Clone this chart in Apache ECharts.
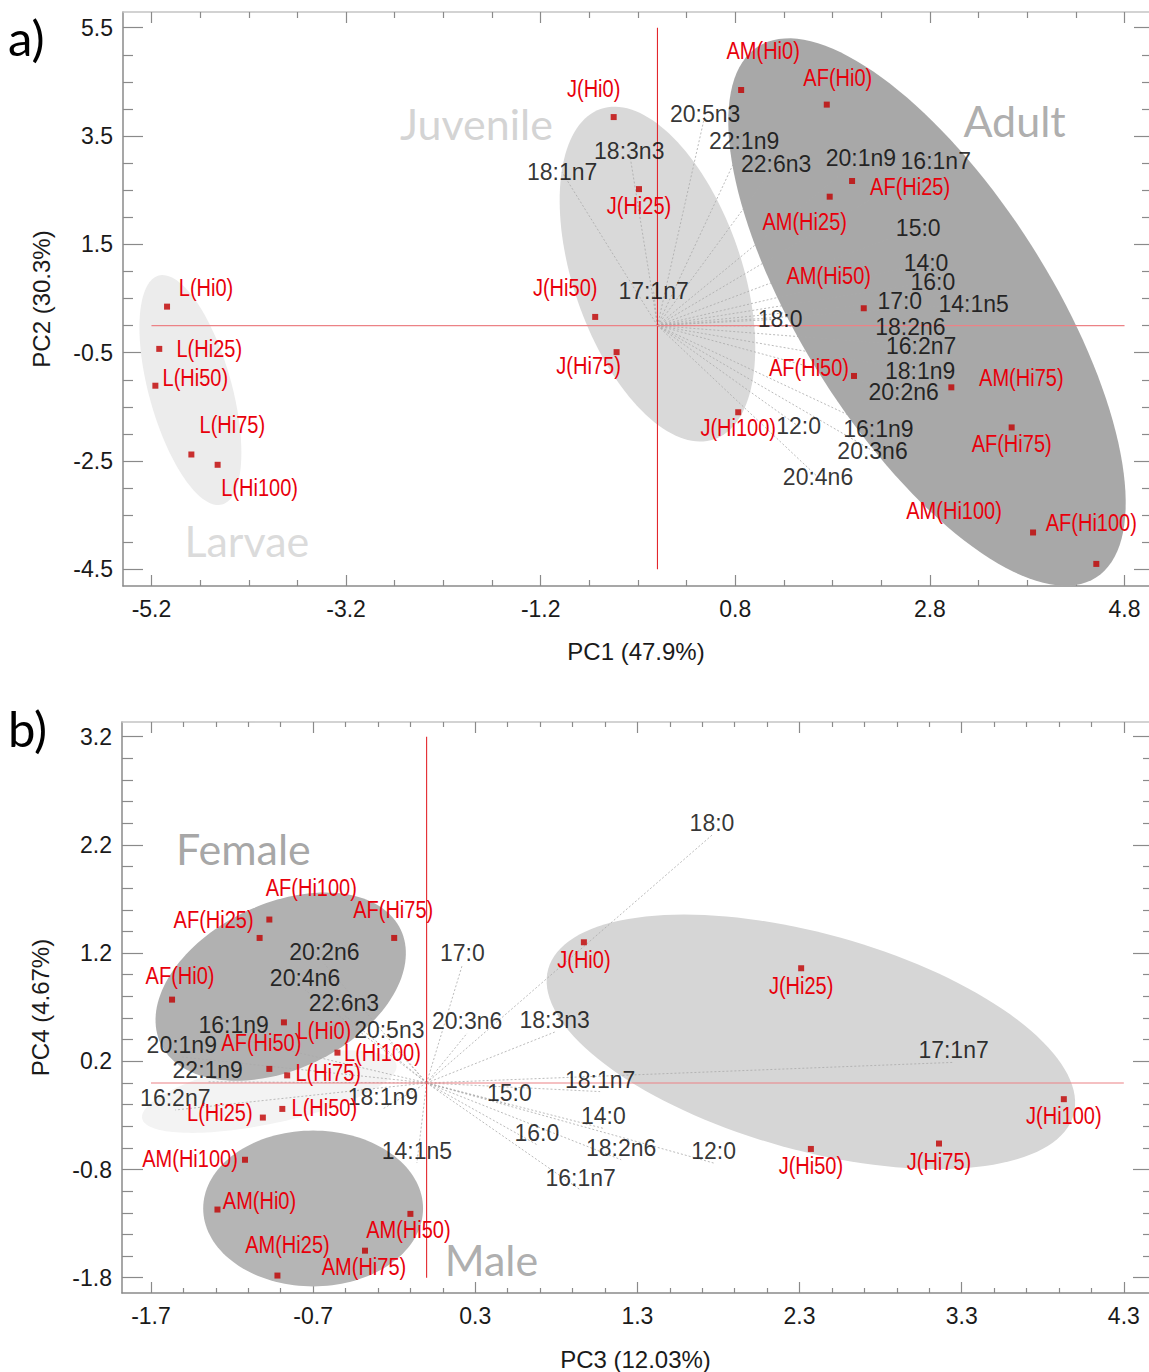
<!DOCTYPE html>
<html><head><meta charset="utf-8">
<script src="https://cdn.jsdelivr.net/npm/echarts@6/dist/echarts.min.js"></script>
<style>html,body{margin:0;padding:0;background:#fff}#c{width:1149px;height:1372px}</style>
</head><body><div id="c"></div>
<script>
// ---------------- Panel a (PC1 vs PC2) ----------------
const sampleNamesA = ['L(Hi0)','L(Hi25)','L(Hi50)','L(Hi75)','L(Hi100)','J(Hi0)','J(Hi25)','J(Hi50)','J(Hi75)','J(Hi100)','AM(Hi0)','AF(Hi0)','AF(Hi25)','AM(Hi25)','AM(Hi50)','AF(Hi50)','AM(Hi75)','AF(Hi75)','AM(Hi100)','AF(Hi100)'];
const samplePC1 = [-5.04,-5.12,-5.16,-4.79,-4.52,-0.45,-0.19,-0.64,-0.42,0.83,0.86,1.74,2.00,1.77,2.12,2.02,3.02,3.64,3.86,4.51];
const samplePC2 = [0.35,-0.43,-1.11,-2.38,-2.57,3.85,2.52,0.16,-0.49,-1.60,4.35,4.08,2.67,2.38,0.32,-0.93,-1.14,-1.88,-3.82,-4.40];

const varNamesA = ['20:5n3','22:1n9','22:6n3','20:1n9','16:1n7','18:3n3','18:1n7','15:0','14:0','16:0','17:0','14:1n5','17:1n7','18:0','18:2n6','16:2n7','18:1n9','20:2n6','12:0','16:1n9','20:3n6','20:4n6'];
const varPC1 = [0.49,0.89,1.22,2.09,2.86,-0.29,-0.98,2.68,2.76,2.83,2.49,3.25,-0.04,1.26,2.60,2.71,2.70,2.53,1.45,2.27,2.21,1.65];
const varPC2 = [3.90,3.41,2.98,3.10,3.04,3.22,2.83,1.81,1.16,0.81,0.45,0.40,0.64,0.12,-0.02,-0.38,-0.84,-1.23,-1.86,-1.91,-2.31,-2.80];

// ellipses: centre (x,y), semi-axis vector U, semi-axis vector V (data units)
const ellipseNamesA = ['Larvae','Juvenile','Adult'];
const ellipsesA = [
  [-4.80,-1.19, 0.326,-2.113, -0.410,-0.204],
  [0.00,0.95, 0.584,-3.050, -0.818,-0.506],
  [2.77,0.25, 1.737,-4.902, -1.074,-1.229]
];
const groupNamesA = ['Larvae','Juvenile','Adult'];
const groupXA = [-4.22,-1.86,3.67];
const groupYA = [-3.97,3.74,3.79];

const xTicksA = [-5.2,-3.2,-1.2,0.8,2.8,4.8];
const yTicksA = [-4.5,-2.5,-0.5,1.5,3.5,5.5];
const refLineA_V = [[0,-4.5],[0,5.5]];
const refLineA_H = [[-5.2,0],[4.8,0]];

// ---------------- Panel b (PC3 vs PC4) ----------------
const sampleNamesB = ['AF(Hi0)','AF(Hi25)','AF(Hi100)','AF(Hi75)','AF(Hi50)','L(Hi0)','L(Hi100)','L(Hi75)','L(Hi50)','L(Hi25)','AM(Hi100)','AM(Hi0)','AM(Hi25)','AM(Hi75)','AM(Hi50)','J(Hi0)','J(Hi25)','J(Hi50)','J(Hi75)','J(Hi100)'];
const samplePC3 = [-1.57,-1.03,-0.97,-0.20,-0.97,-0.88,-0.55,-0.86,-0.89,-1.01,-1.12,-1.29,-0.92,-0.38,-0.10,0.97,2.31,2.37,3.16,3.93];
const samplePC4 = [0.77,1.34,1.51,1.34,0.13,0.56,0.28,0.07,-0.24,-0.32,-0.71,-1.17,-1.78,-1.55,-1.21,1.30,1.06,-0.61,-0.56,-0.15];

const varNamesB = ['18:0','17:0','20:2n6','20:4n6','22:6n3','16:1n9','20:5n3','20:3n6','18:3n3','20:1n9','22:1n9','16:2n7','18:1n9','14:1n5','17:1n7','18:1n7','15:0','14:0','16:0','18:2n6','12:0','16:1n7'];
const varPC3 = [1.76,0.22,-0.63,-0.75,-0.51,-1.19,-0.23,0.25,0.79,-1.51,-1.35,-1.55,-0.27,-0.06,3.25,1.07,0.51,1.09,0.68,1.20,1.77,0.95];
const varPC4 = [2.29,1.09,1.10,0.86,0.63,0.42,0.38,0.46,0.47,0.24,0.01,-0.25,-0.24,-0.74,0.19,-0.08,-0.20,-0.42,-0.57,-0.71,-0.74,-0.99];

const ellipseNamesB = ['Larvae','Female','Male','Juvenile'];
const ellipsesB = [
  [-0.97,-0.08, 0.784,0.249, 0.041,-0.289],
  [-0.90,0.89, 0.740,0.528, 0.220,-0.691],
  [-0.70,-1.16, 0.678,0.000, 0.000,-0.720],
  [2.37,0.38, 1.620,-0.673, -0.179,-0.964]
];
const groupNamesB = ['Female','Male'];
const groupXB = [-1.13,0.40];
const groupYB = [2.17,-1.63];

const xTicksB = [-1.7,-0.7,0.3,1.3,2.3,3.3,4.3];
const yTicksB = [-1.8,-0.8,0.2,1.2,2.2,3.2];
const refLineB_V = [[0,-1.8],[0,3.2]];
const refLineB_H = [[-1.7,0],[4.3,0]];

// ---------------- styles ----------------
const labelOffsetA = [[39,-19],[50,0],[40,-8],[41,-29],[42,23],[-20,-28],[0,17],[-30,-29],[-28,14],[0,16],[22,-39],[11,-27],[58,6],[-25,25],[-35,-32],[-45,-8],[70,-9],[0,17],[-79,-21],[-5,-41]];
const labelOffsetB = [[8,-24],[-46,-18],[42,-32],[-1,-28],[-8,-26],[40,9],[45,0],[41,-2],[42,-1],[-43,-5],[-55,-1],[42,-9],[10,-31],[-1,16],[-2,16],[0,18],[0,18],[0,17],[0,18],[0,17]];
const ellipseColorsA = ['#ececec','#d9d9d9','#a8a8a8'];
const ellipseColorsB = ['#f3f3f3','#b1b1b1','#b5b5b5','#d6d6d6'];
const groupColorsA = ['#d2d2d2','#c9c9c9','#999999'];
const groupColorsB = ['#8f8f8f','#999999'];
const refLineColors = ['#e3262c','#ec8286'];

const NUM_FONT = "'Liberation Sans', Arial, sans-serif";
const GROUP_FONT = "Lato, 'Open Sans', sans-serif";
const AXIS_COLOR = '#8a8a8a';

function minorTicks(majors, step, min, max) {
  const out = [];
  const start = majors[0];
  for (let k = -20; k < 200; k++) {
    const v = +(start + k * step).toFixed(4);
    if (v <= min || v >= max) continue;
    if (majors.some(m => Math.abs(m - v) < 1e-6)) continue;
    out.push(v);
  }
  return out;
}

function makeAxes(dim, gridIndex, min, max, majors, minorStep, name, nameGap, majorLen, minorLen, oppMajorLen, oppMinorLen) {
  const minors = minorTicks(majors, minorStep, min, max);
  const pos = dim === 'x' ? ['bottom','top'] : ['left','right'];
  const base = {type:'value', gridIndex, min, max, splitLine:{show:false}, scale:false};
  return [
    Object.assign({}, base, {
      position: pos[0],
      axisLine:{show:true, onZero:false, lineStyle:{color:AXIS_COLOR, width:1.5}},
      axisTick:{show:true, inside:true, length:majorLen, customValues:majors, lineStyle:{color:AXIS_COLOR, width:1.2}},
      axisLabel:{show:true, customValues:majors, margin: dim==='x'?11:10, color:'#1a1a1a', fontSize:23, fontFamily:NUM_FONT, formatter:v=>v.toFixed(1)},
      name, nameLocation:'middle', nameGap, nameTextStyle:{color:'#1a1a1a', fontSize:24, fontFamily:NUM_FONT}
    }),
    Object.assign({}, base, {
      position: pos[0],
      axisLine:{show:false, onZero:false},
      axisTick:{show:true, inside:true, length:minorLen, customValues:minors, lineStyle:{color:AXIS_COLOR, width:1.2}},
      axisLabel:{show:false}
    }),
    Object.assign({}, base, {
      position: pos[1],
      axisLine:{show:dim === 'x', onZero:false, lineStyle:{color:'#c4c4c4', width:1.5}},
      axisTick:{show:true, inside:true, length:oppMajorLen, customValues:majors, lineStyle:{color:AXIS_COLOR, width:1.2}},
      axisLabel:{show:false}
    }),
    Object.assign({}, base, {
      position: pos[1],
      axisLine:{show:false, onZero:false},
      axisTick:{show:true, inside:true, length:oppMinorLen, customValues:minors, lineStyle:{color:AXIS_COLOR, width:1.2}},
      axisLabel:{show:false}
    })
  ];
}

function ellipseRender(params, api) {
  const cx = api.value(0), cy = api.value(1), ux = api.value(2), uy = api.value(3), vx = api.value(4), vy = api.value(5);
  const pts = [];
  const N = 144;
  for (let i = 0; i < N; i++) {
    const t = 2 * Math.PI * i / N;
    pts.push(api.coord([cx + ux * Math.cos(t) + vx * Math.sin(t), cy + uy * Math.cos(t) + vy * Math.sin(t)]));
  }
  return {type:'polygon', shape:{points:pts}, style:{fill:api.visual('color')}, silent:true};
}
function vectorRender(params, api) {
  const o = api.coord([0,0]);
  const p = api.coord([api.value(0), api.value(1)]);
  return {type:'line', shape:{x1:o[0], y1:o[1], x2:p[0], y2:p[1]}, style:{stroke:'#a9a9a9', lineWidth:0.8, lineDash:[2,2]}, silent:true};
}
function refLineRender(params, api) {
  const p0 = api.coord([api.value(0), api.value(1)]);
  const p1 = api.coord([api.value(2), api.value(3)]);
  return {type:'line', shape:{x1:p0[0], y1:p0[1], x2:p1[0], y2:p1[1]}, style:{stroke:refLineColors[params.dataIndex], lineWidth:1.1}, silent:true};
}
// condensed red sample labels (narrow sans look)
function makeSampleLabelRender(names, offsets) {
  return function (params, api) {
    const p = api.coord([api.value(0), api.value(1)]);
    const off = offsets[params.dataIndex];
    return {type:'text', x:p[0] + off[0], y:p[1] + off[1], scaleX:0.87, silent:true,
      style:{text:names[params.dataIndex], fontSize:23, fontFamily:NUM_FONT, fill:'#e8000b', align:'center', verticalAlign:'middle'}};
  };
}

function panelSeries(ax, ellipses, ellColors, ellNames, vNames, vx, vy, vOff, refV, refH, sNames, sx, sy, sOff, gNames, gx, gy, gCol) {
  const xi = ax, yi = ax;
  return [
    {type:'custom', xAxisIndex:xi, yAxisIndex:yi, renderItem:ellipseRender, z:1,
     dimensions:['cx','cy','ux','uy','vx','vy'], encode:{x:0, y:1},
     data: ellipses.map((e,i)=>({name:ellNames[i], value:e, itemStyle:{color:ellColors[i]}}))},
    {type:'scatter', xAxisIndex:xi, yAxisIndex:yi, symbolSize:0.1, z:2, itemStyle:{color:'rgba(0,0,0,0)'},
     label:{show:true, position:'inside', formatter:'{b}', fontSize:43, fontFamily:GROUP_FONT, color:'#999'},
     data: gNames.map((n,i)=>({name:n, value:[gx[i], gy[i]], label:{color:gCol[i]}}))},
    {type:'custom', xAxisIndex:xi, yAxisIndex:yi, renderItem:vectorRender, z:3, encode:{x:0, y:1},
     data: vNames.map((n,i)=>({name:n, value:[vx[i], vy[i]]}))},
    {type:'custom', xAxisIndex:xi, yAxisIndex:yi, renderItem:refLineRender, z:4,
     dimensions:['x0','y0','x1','y1'], encode:{x:[0,2], y:[1,3]},
     data:[refV[0].concat(refV[1]), refH[0].concat(refH[1])]},
    {type:'scatter', xAxisIndex:xi, yAxisIndex:yi, symbolSize:0.1, z:5, itemStyle:{color:'rgba(0,0,0,0)'},
     label:{show:true, position:'inside', formatter:'{b}', fontSize:23, fontFamily:NUM_FONT, color:'#000', offset:vOff},
     data: vNames.map((n,i)=>({name:n, value:[vx[i], vy[i]]}))},
    {type:'scatter', xAxisIndex:xi, yAxisIndex:yi, symbol:'rect', symbolSize:6, z:6, itemStyle:{color:'#c00000'},
     data: sNames.map((n,i)=>({name:n, value:[sx[i], sy[i]]}))},
    {type:'custom', xAxisIndex:xi, yAxisIndex:yi, renderItem:makeSampleLabelRender(sNames, sOff), z:7, encode:{x:0, y:1},
     data: sNames.map((n,i)=>({name:n, value:[sx[i], sy[i]]}))}
  ];
}

const xAxes = [].concat(
  makeAxes('x', 0, -5.4926, 5.0515, xTicksA, 0.5, 'PC1 (47.9%)', 53, 11, 6, 11, 6),
  makeAxes('x', 1, -1.8787, 4.4553, xTicksB, 0.2, 'PC3 (12.03%)', 54, 11, 5, 11, 5)
);
const yAxes = [].concat(
  makeAxes('y', 0, -4.808, 5.790, yTicksA, 0.5, 'PC2 (30.3%)', 70, 20, 10, 15, 7),
  makeAxes('y', 1, -1.9412, 3.3356, yTicksB, 0.2, 'PC4 (4.67%)', 70, 21, 11, 16, 6)
);

const option = {
  animation:false,
  backgroundColor:'#fff',
  grid:[
    {left:123, top:12, width:1027, height:574},
    {left:122, top:722, width:1028, height:572}
  ],
  xAxis:xAxes,
  yAxis:yAxes,
  graphic:[
    {type:'text', left:8, top:12, style:{text:'a)', fontSize:49, fontFamily:GROUP_FONT, fill:'#000'}},
    {type:'text', left:8, top:703, style:{text:'b)', fontSize:49, fontFamily:GROUP_FONT, fill:'#000'}}
  ],
  series:[].concat(
    panelSeries(0, ellipsesA, ellipseColorsA, ellipseNamesA, varNamesA, varPC1, varPC2, [0,0], refLineA_V, refLineA_H, sampleNamesA, samplePC1, samplePC2, labelOffsetA, groupNamesA, groupXA, groupYA, groupColorsA),
    panelSeries(4, ellipsesB, ellipseColorsB, ellipseNamesB, varNamesB, varPC3, varPC4, [0,-12], refLineB_V, refLineB_H, sampleNamesB, samplePC3, samplePC4, labelOffsetB, groupNamesB, groupXB, groupYB, groupColorsB)
  )
};
const chart = echarts.init(document.getElementById('c'), null, {renderer:'svg', width:1149, height:1372});
chart.setOption(option);
</script>
</body></html>
